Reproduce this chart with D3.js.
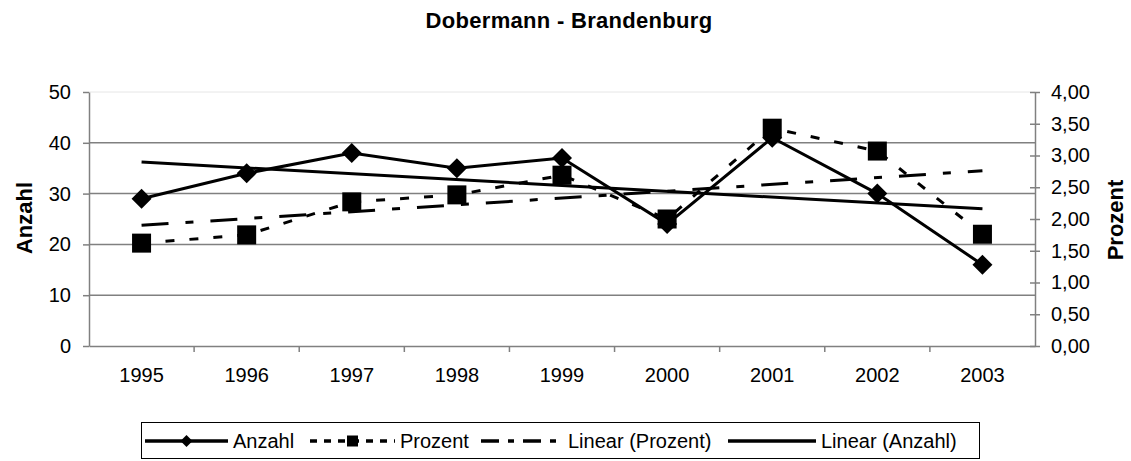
<!DOCTYPE html>
<html>
<head>
<meta charset="utf-8">
<script src="https://cdn.jsdelivr.net/npm/d3@7"></script>
<style>
  body { margin: 0; background: #fff; }
  svg { font-family: "Liberation Sans", Arial, sans-serif; }
</style>
</head>
<body>
<div id="chart"></div>
<script>
// data
const years = ["1995", "1996", "1997", "1998", "1999", "2000", "2001", "2002", "2003"];
const anzahl = [29, 34, 38, 35, 37, 24, 41, 30, 16];
const prozent = [1.62, 1.75, 2.27, 2.38, 2.69, 2.00, 3.43, 3.07, 1.76];
// linear trendlines, value at first and last year
const trendAnzahl = [36.2, 27.0];
const trendProzent = [1.90, 2.76];
const leftTicks = [0, 10, 20, 30, 40, 50];
const rightTicks = [0, 0.5, 1, 1.5, 2, 2.5, 3, 3.5, 4];
const legendLabels = ["Anzahl", "Prozent", "Linear (Prozent)", "Linear (Anzahl)"];

const width = 1131, height = 461;
const plot = { left: 89, right: 1035, top: 92, bottom: 346 };

const svg = d3.select("#chart").append("svg")
    .attr("width", width)
    .attr("height", height);

const x = d3.scaleBand().domain(years).range([plot.left, plot.right]);
const yL = d3.scaleLinear().domain([0, 50]).range([plot.bottom, plot.top]);
const yR = d3.scaleLinear().domain([0, 4]).range([plot.bottom, plot.top]);
const cx = d => x(d) + x.bandwidth() / 2;

// title
svg.append("text")
    .attr("x", 569).attr("y", 28)
    .attr("text-anchor", "middle")
    .style("font-size", "22px").style("font-weight", "bold")
    .style("letter-spacing", "0.3px")
    .text("Dobermann - Brandenburg");

// plot area top border (faint)
svg.append("line")
    .attr("x1", plot.left).attr("x2", plot.right)
    .attr("y1", plot.top).attr("y2", plot.top)
    .attr("stroke", "#e6e6e6").attr("stroke-width", 1);

// gridlines
svg.append("g").selectAll("line")
    .data(leftTicks.filter(d => d > 0 && d < 50))
    .enter().append("line")
    .attr("x1", plot.left).attr("x2", plot.right)
    .attr("y1", d => yL(d)).attr("y2", d => yL(d))
    .attr("stroke", "#808080").attr("stroke-width", 1.5);

// left axis
const axL = svg.append("g")
    .attr("transform", `translate(${plot.left},0)`)
    .call(d3.axisLeft(yL).tickValues(leftTicks).tickSize(6).tickPadding(12).tickSizeOuter(0));
axL.select(".domain").attr("stroke", "#808080").attr("stroke-width", 1.5);
axL.selectAll(".tick line").attr("stroke", "#808080").attr("stroke-width", 1.5);
axL.selectAll("text").style("font-size", "20px").style("font-family", "Liberation Sans, Arial, sans-serif").attr("fill", "#000");

// right axis, ticks cross the line
const axR = svg.append("g")
    .attr("transform", `translate(${plot.right},0)`)
    .call(d3.axisRight(yR).tickValues(rightTicks).tickSize(5).tickPadding(11).tickSizeOuter(0)
        .tickFormat(d => d3.format(".2f")(d).replace(".", ",")));
axR.select(".domain").attr("stroke", "#808080").attr("stroke-width", 1.5);
axR.selectAll(".tick line").attr("stroke", "#808080").attr("stroke-width", 1.5).attr("x1", -5);
axR.selectAll("text").style("font-size", "20px").style("font-family", "Liberation Sans, Arial, sans-serif").attr("fill", "#000");

// bottom axis, ticks on category boundaries
const axB = svg.append("g")
    .attr("transform", `translate(0,${plot.bottom})`)
    .call(d3.axisBottom(x).tickSize(0).tickPadding(22).tickSizeOuter(0));
axB.select(".domain").attr("stroke", "#808080").attr("stroke-width", 1.5);
axB.selectAll(".tick line").remove();
axB.selectAll("text").style("font-size", "20px").style("font-family", "Liberation Sans, Arial, sans-serif").attr("fill", "#000");
axB.selectAll(".bound").data(years.slice(1))
    .enter().append("line")
    .attr("x1", d => x(d)).attr("x2", d => x(d))
    .attr("y1", 0).attr("y2", 6)
    .attr("stroke", "#808080").attr("stroke-width", 1.5);

// axis titles
svg.append("text")
    .attr("transform", "translate(24,218) rotate(-90)")
    .attr("text-anchor", "middle").attr("dy", "0.35em")
    .style("font-size", "22px").style("font-weight", "bold")
    .text("Anzahl");
svg.append("text")
    .attr("transform", "translate(1115,220) rotate(-90)")
    .attr("text-anchor", "middle").attr("dy", "0.35em")
    .style("font-size", "22px").style("font-weight", "bold")
    .text("Prozent");

// marker shapes
const diamond = {
    draw(ctx, size) {
        const r = Math.sqrt(size) / 2;
        ctx.moveTo(0, -r); ctx.lineTo(r, 0); ctx.lineTo(0, r); ctx.lineTo(-r, 0); ctx.closePath();
    }
};

// Anzahl series
const lineL = d3.line().x((d, i) => cx(years[i])).y(d => yL(d));
svg.append("path")
    .attr("d", lineL(anzahl))
    .attr("fill", "none").attr("stroke", "#000").attr("stroke-width", 3);
svg.append("g").selectAll("path")
    .data(anzahl).enter().append("path")
    .attr("transform", (d, i) => `translate(${cx(years[i])},${yL(d)})`)
    .attr("d", d3.symbol().type(diamond).size(20 * 20));

// Prozent series
const lineR = d3.line().x((d, i) => cx(years[i])).y(d => yR(d));
svg.append("path")
    .attr("d", lineR(prozent))
    .attr("fill", "none").attr("stroke", "#000").attr("stroke-width", 3)
    .attr("stroke-dasharray", "9,15");
svg.append("g").selectAll("rect")
    .data(prozent).enter().append("rect")
    .attr("x", (d, i) => cx(years[i]) - 9.5)
    .attr("y", d => yR(d) - 9.5)
    .attr("width", 19).attr("height", 19)
    .attr("fill", "#000");

// trendlines
const ends = [years[0], years[years.length - 1]];
svg.append("path")
    .attr("d", d3.line().x((d, i) => cx(ends[i])).y(d => yR(d))(trendProzent))
    .attr("fill", "none").attr("stroke", "#000").attr("stroke-width", 3)
    .attr("stroke-dasharray", "27,17,8,17");
svg.append("path")
    .attr("d", d3.line().x((d, i) => cx(ends[i])).y(d => yL(d))(trendAnzahl))
    .attr("fill", "none").attr("stroke", "#000").attr("stroke-width", 3);

// legend
const legend = svg.append("g");
legend.append("rect")
    .attr("x", 141.5).attr("y", 422.5)
    .attr("width", 838).attr("height", 36)
    .attr("fill", "#fff").attr("stroke", "#000").attr("stroke-width", 1);

const legendItems = [
    { x0: 145, x1: 228, dash: null, marker: "diamond" },
    { x0: 310, x1: 395, dash: "7,7", marker: "square" },
    { x0: 481, x1: 563, dash: "18,9,6,9", marker: null },
    { x0: 728, x1: 816, dash: null, marker: null }
];
const ly = 441;
legendItems.forEach((it, i) => {
    legend.append("line")
        .attr("x1", it.x0).attr("x2", it.x1)
        .attr("y1", ly).attr("y2", ly)
        .attr("stroke", "#000").attr("stroke-width", 3.5)
        .attr("stroke-dasharray", it.dash);
    const mx = (it.x0 + it.x1) / 2;
    if (it.marker === "diamond") {
        legend.append("path")
            .attr("transform", `translate(${mx},${ly})`)
            .attr("d", d3.symbol().type(diamond).size(12 * 12));
    } else if (it.marker === "square") {
        legend.append("rect")
            .attr("x", mx - 5.5).attr("y", ly - 5.5)
            .attr("width", 11).attr("height", 11).attr("fill", "#000");
    }
    legend.append("text")
        .attr("x", it.x1 + 5).attr("y", ly).attr("dy", "0.35em")
        .style("font-size", "20px")
        .text(legendLabels[i]);
});
</script>
</body>
</html>
